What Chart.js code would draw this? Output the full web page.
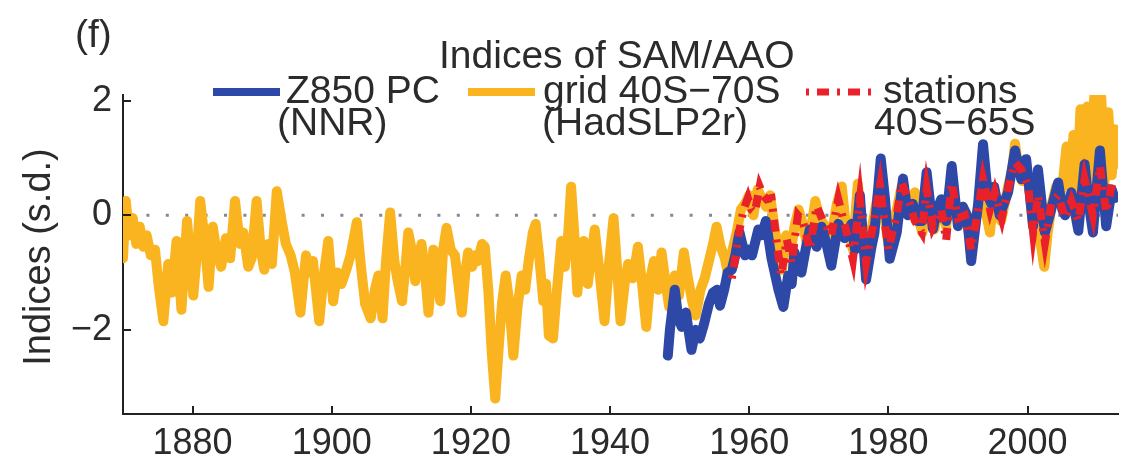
<!DOCTYPE html>
<html><head><meta charset="utf-8">
<script src="https://cdn.jsdelivr.net/npm/chart.js@4.4.1/dist/chart.umd.min.js"></script>
<style>html,body{margin:0;padding:0;background:#fff;}canvas{display:block;}</style>
</head><body>
<canvas id="c" width="1121" height="464"></canvas>
<script>
// ---------- data ----------
const xTicks = [1880, 1900, 1920, 1940, 1960, 1980, 2000];
const yTicks = [-2, 0, 2];

// HadSLP2r grid 40S-70S (yellow)
const gridYears = [1870.0,1870.4,1870.9,1871.4,1871.9,1872.4,1872.9,1873.4,1874.0,1874.6,1875.1,1875.8,1876.5,1877.0,1877.7,1878.4,1879.2,1880.1,1880.6,1881.1,1881.7,1882.3,1882.9,1883.4,1884.1,1884.8,1885.4,1886.1,1886.8,1887.3,1888.0,1888.5,1889.2,1889.8,1890.3,1890.9,1891.4,1892.1,1892.8,1893.4,1894.1,1894.7,1895.5,1896.3,1896.8,1897.3,1898.2,1898.8,1899.5,1900.2,1900.8,1901.4,1902.1,1902.7,1903.6,1904.2,1904.8,1905.6,1906.2,1906.7,1907.3,1907.8,1908.4,1909.0,1909.4,1910.1,1910.6,1911.0,1911.5,1912.0,1912.5,1912.9,1913.4,1913.9,1914.6,1915.1,1915.6,1916.0,1916.5,1917.1,1917.7,1918.2,1918.7,1919.2,1919.6,1920.2,1920.6,1921.0,1921.6,1922.0,1922.5,1923.0,1923.5,1924.0,1924.5,1925.0,1925.5,1926.1,1926.7,1927.3,1927.8,1928.3,1928.9,1929.3,1929.8,1930.4,1930.8,1931.2,1931.8,1932.3,1933.0,1933.5,1934.0,1934.4,1934.9,1935.3,1935.8,1936.2,1936.8,1937.3,1937.8,1938.4,1939.2,1939.8,1940.5,1941.0,1941.5,1942.1,1942.6,1943.3,1944.0,1944.6,1945.2,1945.8,1946.3,1946.9,1947.4,1948.0,1948.5,1949.3,1949.9,1950.6,1951.2,1951.8,1952.3,1953.0,1953.6,1954.2,1954.8,1955.3,1955.9,1956.5,1957.0,1957.6,1958.2,1958.8,1959.4,1960.0,1960.6,1961.2,1961.8,1962.4,1963.0,1963.6,1964.2,1964.7,1965.3,1965.9,1966.5,1967.1,1967.7,1968.3,1968.8,1969.5,1970.1,1970.7,1971.3,1971.9,1972.6,1973.3,1973.9,1974.4,1974.9,1975.6,1976.2,1976.8,1977.5,1978.1,1978.8,1979.4,1980.0,1980.6,1981.2,1981.9,1982.5,1983.1,1983.8,1984.4,1984.9,1985.5,1986.1,1986.6,1987.2,1987.7,1988.3,1989.1,1989.6,1990.1,1990.7,1991.3,1991.9,1992.4,1992.9,1993.6,1994.1,1994.6,1995.1,1995.6,1996.2,1996.7,1997.2,1997.8,1998.2,1998.7,1999.2,1999.7,2000.3,2000.8,2001.4,2001.9,2002.4,2002.9,2003.5,2004.1,2004.6,2005.1,2005.6,2006.1,2006.6,2007.1,2007.6,2008.1,2008.6,2009.1,2009.6,2010.1,2010.6,2011.1,2011.6,2012.1,2012.6,2012.9];
const gridValues = [-0.75,0.25,-0.35,-0.05,-0.5,-0.2,-0.55,-0.35,-0.7,-0.6,-1.2,-1.85,-0.85,-1.35,-0.45,-1.65,-0.1,-1.4,-0.7,0.25,-0.4,-1.25,-0.2,-0.6,-0.9,-0.4,-0.75,0.25,-0.5,-0.3,-0.9,-0.75,0.25,-0.6,-0.95,-0.5,-0.85,0.42,-0.1,-0.5,-0.7,-1.0,-1.7,-0.7,-1.0,-0.8,-1.85,-1.1,-0.45,-1.5,-1.0,-1.2,-0.95,-0.7,-0.12,-0.9,-1.55,-1.8,-1.3,-1.05,-1.8,-0.8,0.05,-0.8,-1.1,-1.5,-0.9,-0.3,-0.6,-1.15,-0.8,-0.5,-1.0,-1.7,-0.6,-1.0,-1.5,-0.6,-0.22,-0.6,-0.7,-1.2,-1.7,-1.0,-0.65,-0.9,-0.7,-0.8,-0.5,-0.55,-1.3,-2.4,-3.2,-2.3,-1.5,-1.05,-1.5,-2.45,-1.6,-1.05,-1.3,-0.8,-0.3,-0.15,-0.7,-1.5,-1.2,-2.1,-2.15,-1.4,-0.45,-0.9,-0.3,0.5,-0.4,-1.35,-0.6,-0.45,-1.2,-0.7,-0.25,-0.9,-1.85,-0.9,-0.05,-0.9,-1.85,-1.2,-0.85,-1.1,-0.55,-1.2,-1.95,-1.1,-0.8,-1.3,-0.65,-1.2,-1.6,-1.05,-1.4,-0.65,-1.1,-1.5,-1.75,-1.3,-1.1,-0.8,-0.5,-0.2,-0.55,-0.75,-1.05,-0.6,-0.3,0.1,0.2,0.35,0.0,0.45,0.3,0.15,0.35,-0.2,-0.6,-0.95,-0.35,-0.7,-0.2,0.1,-0.15,-0.5,-0.3,0.25,-0.05,-0.15,-0.4,-0.3,0.2,0.5,-0.2,-0.35,-0.6,0.55,-0.2,-0.75,-0.3,0.1,0.55,0.0,-0.5,-0.2,0.1,0.5,0.1,0.0,0.4,-0.1,-0.3,0.5,0.0,-0.25,0.1,0.2,-0.2,0.6,0.1,-0.05,0.15,-0.1,-0.6,-0.2,0.15,0.7,0.0,-0.3,0.3,0.1,-0.1,0.2,0.5,0.8,1.25,0.8,0.6,0.9,0.4,-0.2,0.3,-0.5,-0.9,-0.3,0.2,0.5,0.3,0.6,1.2,0.5,1.4,0.3,1.85,0.8,1.9,0.6,2.1,0.8,2.05,0.6,1.8,0.7,1.5,0.9];

// Z850 PC (NNR) (blue)
const z850Years = [1948.3,1948.6,1949.3,1949.8,1950.3,1950.9,1951.7,1952.3,1952.9,1953.5,1954.2,1954.8,1955.4,1955.8,1956.4,1956.9,1957.5,1958.0,1958.6,1959.4,1959.9,1960.4,1961.3,1961.8,1962.4,1963.2,1964.2,1964.9,1965.6,1966.1,1966.5,1967.5,1968.1,1968.7,1969.7,1970.4,1971.1,1971.8,1972.8,1973.7,1974.7,1975.2,1975.9,1976.8,1977.5,1978.0,1978.9,1979.5,1980.2,1981.2,1982.1,1982.8,1983.5,1984.2,1984.8,1985.5,1986.4,1987.0,1987.6,1988.3,1989.1,1990.0,1990.7,1991.3,1991.9,1992.4,1992.9,1993.6,1994.3,1994.8,1995.2,1996.0,1996.6,1997.2,1998.2,1999.1,1999.8,2000.3,2000.8,2001.5,2002.5,2003.4,2004.4,2005.0,2005.4,2006.3,2007.3,2008.2,2008.8,2009.4,2010.4,2011.3,2012.1,2012.5];
const z850Values = [-2.45,-2.0,-1.3,-1.8,-1.95,-1.7,-2.35,-2.0,-2.15,-1.9,-1.55,-1.35,-1.3,-1.58,-1.3,-1.0,-0.95,-0.7,-0.3,-0.7,-0.6,-0.7,-0.25,-0.35,-0.1,-0.75,-1.3,-1.6,-1.05,-1.2,-0.65,-1.0,-0.6,-0.25,-0.55,-0.2,-0.5,-0.88,-0.15,-0.4,-0.15,-0.6,0.35,-1.12,-0.6,-0.3,0.99,0.3,-0.76,-0.3,0.64,0.0,0.2,-0.1,-0.1,0.75,-0.24,0.1,0.28,-0.1,0.86,-0.19,0.15,0.0,-0.8,-0.3,0.2,1.24,0.34,0.2,0.5,0.0,0.2,0.4,1.13,0.63,0.98,0.4,-0.19,0.8,-0.3,0.1,0.57,0.1,0.0,0.4,-0.27,0.89,0.2,-0.3,1.13,-0.19,0.45,0.3];

// stations 40S-65S (red dash-dot)
const stationYears = [1957.5,1958.0,1958.6,1959.2,1959.8,1960.3,1960.8,1961.5,1962.0,1962.5,1963.2,1963.9,1964.6,1965.4,1966.1,1967.0,1967.7,1968.7,1969.7,1970.6,1971.8,1972.8,1974.0,1974.9,1975.9,1976.8,1978.0,1978.8,1980.0,1981.2,1981.9,1983.1,1983.8,1984.8,1985.5,1986.4,1987.6,1988.3,1989.1,1990.0,1991.0,1991.9,1992.9,1993.6,1994.6,1995.3,1996.3,1997.2,1998.2,1999.1,2000.1,2000.8,2001.5,2002.5,2003.4,2004.4,2005.4,2006.3,2007.3,2008.2,2009.4,2010.4,2011.3,2012.3];
const stationValues = [-1.1,-0.75,-0.25,0.1,0.3,0.1,0.05,0.5,0.35,0.28,0.3,-0.42,-1.05,-0.42,-0.83,0.0,-0.1,-0.6,0.16,-0.1,-0.35,0.28,-0.3,-0.77,0.28,-0.83,-0.05,0.51,-0.6,0.0,0.57,0.2,-0.1,-0.3,0.46,-0.2,0.1,-0.44,0.57,-0.05,0.0,-0.6,0.1,0.63,0.1,0.4,-0.05,0.46,0.92,0.8,0.5,-0.3,0.35,-0.48,0.2,0.35,-0.05,0.25,-0.1,0.63,0.0,0.86,0.05,0.63];

// ---------- styling ----------
const FONT = '"Liberation Sans", Arial, Helvetica, sans-serif';
const YELLOW = '#F9B41F';
const BLUE = '#2E48A8';
const RED = '#E8212B';
const TEXT = '#2b2b2b';
const RED_DASH = [3, 8, 12, 8];

const pts = (xs, ys) => xs.map((x, i) => ({x: x, y: ys[i]}));

const decorPlugin = {
  id: 'decor',
  beforeDatasetsDraw(chart) {
    const {ctx, chartArea: a, scales: {y}} = chart;
    const y0 = y.getPixelForValue(0);
    ctx.save();
    ctx.strokeStyle = '#7f8a94';
    ctx.lineWidth = 3;
    ctx.setLineDash([3, 16.4]);
    ctx.lineDashOffset = -4;
    ctx.beginPath();
    ctx.moveTo(a.left, y0);
    ctx.lineTo(a.right, y0);
    ctx.stroke();
    ctx.restore();
  },
  afterDraw(chart) {
    const {ctx, chartArea: a, scales: {x, y}} = chart;
    ctx.save();
    // inward tick marks
    ctx.strokeStyle = '#222';
    ctx.lineWidth = 2;
    ctx.beginPath();
    xTicks.forEach(v => { const px = Math.round(x.getPixelForValue(v)); ctx.moveTo(px, a.bottom); ctx.lineTo(px, a.bottom - 8); });
    yTicks.forEach(v => { const py = Math.round(y.getPixelForValue(v)); ctx.moveTo(a.left, py); ctx.lineTo(a.left + 8, py); });
    ctx.stroke();

    // texts
    ctx.fillStyle = TEXT;
    ctx.textBaseline = 'alphabetic';
    ctx.textAlign = 'left';
    ctx.font = '39px ' + FONT;
    ctx.fillText('(f)', 75, 47);
    ctx.fillText('Indices of SAM/AAO', 439, 68);

    // legend
    const ly = 92;
    ctx.lineWidth = 8;
    ctx.lineCap = 'butt';
    ctx.strokeStyle = BLUE;
    ctx.beginPath(); ctx.moveTo(213, ly); ctx.lineTo(280, ly); ctx.stroke();
    ctx.strokeStyle = YELLOW;
    ctx.beginPath(); ctx.moveTo(468, ly); ctx.lineTo(535, ly); ctx.stroke();
    ctx.strokeStyle = RED;
    ctx.lineWidth = 7;
    ctx.setLineDash(RED_DASH);
    ctx.beginPath(); ctx.moveTo(806, ly); ctx.lineTo(872, ly); ctx.stroke();
    ctx.setLineDash([]);

    ctx.fillText('Z850 PC', 286, 103);
    ctx.fillText('(NNR)', 277, 135);
    ctx.fillText('grid 40S\u221270S', 543, 103);
    ctx.fillText('(HadSLP2r)', 542, 135);
    ctx.fillText('stations', 883, 103);
    ctx.fillText('40S\u221265S', 874, 135);

    // y-axis title
    ctx.font = '38px ' + FONT;
    ctx.translate(40, 257);
    ctx.rotate(-Math.PI / 2);
    ctx.textAlign = 'center';
    ctx.textBaseline = 'middle';
    ctx.fillText('Indices (s.d.)', 0, 0);
    ctx.restore();
  }
};

new Chart(document.getElementById('c'), {
  type: 'line',
  data: {
    datasets: [
      {label: 'stations 40S-65S', data: pts(stationYears, stationValues), borderColor: RED, borderWidth: 8, borderDash: RED_DASH, borderCapStyle: 'butt', pointRadius: 0, tension: 0, order: 0},
      {label: 'Z850 PC (NNR)', data: pts(z850Years, z850Values), borderColor: BLUE, borderWidth: 10, borderJoinStyle: 'round', borderCapStyle: 'round', pointRadius: 0, tension: 0, order: 1},
      {label: 'grid 40S-70S (HadSLP2r)', data: pts(gridYears, gridValues), borderColor: YELLOW, borderWidth: 10, borderJoinStyle: 'round', borderCapStyle: 'round', pointRadius: 0, tension: 0, order: 2}
    ]
  },
  options: {
    responsive: false,
    animation: false,
    devicePixelRatio: 1,
    layout: {padding: {left: 0, right: 3, top: 95, bottom: 0}},
    plugins: {legend: {display: false}, tooltip: {enabled: false}, title: {display: false}},
    scales: {
      x: {
        type: 'linear', min: 1870, max: 2013, position: 'bottom',
        grid: {display: false, drawTicks: false},
        border: {display: true, color: '#222', width: 2},
        ticks: {font: {family: FONT, size: 36, lineHeight: 1.2}, color: TEXT, padding: 8, maxRotation: 0, autoSkip: false, callback: v => String(v)},
        afterBuildTicks: s => { s.ticks = xTicks.map(v => ({value: v})); },
        afterFit: s => { s.height = 50; }
      },
      y: {
        type: 'linear', min: -3.47, max: 2.1,
        grid: {display: false, drawTicks: false},
        border: {display: true, color: '#222', width: 2},
        ticks: {font: {family: FONT, size: 36, lineHeight: 1.2}, color: TEXT, padding: 11, callback: v => (v < 0 ? '\u2212' + Math.abs(v) : String(v))},
        afterBuildTicks: s => { s.ticks = yTicks.map(v => ({value: v})); },
        afterFit: s => { s.width = 123; }
      }
    }
  },
  plugins: [decorPlugin]
});
</script>
</body></html>
